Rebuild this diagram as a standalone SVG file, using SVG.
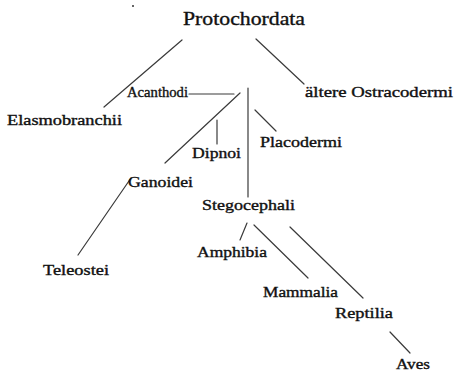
<svg xmlns="http://www.w3.org/2000/svg" width="454" height="371" viewBox="0 0 454 371">
<style>
text{font-family:'Liberation Serif','Times New Roman',serif;fill:#111;font-size:14px;stroke:#111;stroke-width:0.35}
.big{font-size:18px}
.c line{stroke:#3a3a3a;stroke-width:1.2;stroke-linecap:round}
</style>
<rect width="454" height="371" fill="#fff"/>
<circle cx="133" cy="6" r="1" fill="#333"/>
<g class="c" id="connectors">
<line x1="182" y1="40" x2="104" y2="107"/>
<line x1="256" y1="39" x2="304" y2="84"/>
<line x1="189" y1="94" x2="234" y2="94"/>
<line x1="240" y1="93" x2="165" y2="163"/>
<line x1="248" y1="88" x2="248" y2="197"/>
<line x1="217" y1="120" x2="217" y2="144"/>
<line x1="255" y1="110" x2="276" y2="131"/>
<line x1="131" y1="178" x2="78" y2="255"/>
<line x1="247" y1="223" x2="240" y2="240"/>
<line x1="254" y1="225" x2="308" y2="278"/>
<line x1="290" y1="227" x2="363" y2="298"/>
<line x1="390" y1="332" x2="410" y2="353"/>
</g>
<g id="protochordata"><text class="big" x="183" y="25" textLength="122" lengthAdjust="spacingAndGlyphs">Protochordata</text></g>
<g id="elasmobranchii"><text x="7" y="125" textLength="115" lengthAdjust="spacingAndGlyphs">Elasmobranchii</text></g>
<g id="acanthodi"><text x="127" y="97" textLength="61" lengthAdjust="spacingAndGlyphs">Acanthodi</text></g>
<g id="ostracodermi"><text x="305" y="97" textLength="148" lengthAdjust="spacingAndGlyphs">ältere Ostracodermi</text></g>
<g id="placodermi"><text x="260" y="147" textLength="82" lengthAdjust="spacingAndGlyphs">Placodermi</text></g>
<g id="dipnoi"><text x="192" y="158" textLength="49" lengthAdjust="spacingAndGlyphs">Dipnoi</text></g>
<g id="ganoidei"><text x="128" y="187" textLength="65" lengthAdjust="spacingAndGlyphs">Ganoidei</text></g>
<g id="stegocephali"><text x="202" y="210" textLength="93" lengthAdjust="spacingAndGlyphs">Stegocephali</text></g>
<g id="teleostei"><text x="43" y="275" textLength="66" lengthAdjust="spacingAndGlyphs">Teleostei</text></g>
<g id="amphibia"><text x="197" y="257" textLength="70" lengthAdjust="spacingAndGlyphs">Amphibia</text></g>
<g id="mammalia"><text x="263" y="297" textLength="75" lengthAdjust="spacingAndGlyphs">Mammalia</text></g>
<g id="reptilia"><text x="335" y="318" textLength="58" lengthAdjust="spacingAndGlyphs">Reptilia</text></g>
<g id="aves"><text x="396" y="369" textLength="34" lengthAdjust="spacingAndGlyphs">Aves</text></g>
</svg>
